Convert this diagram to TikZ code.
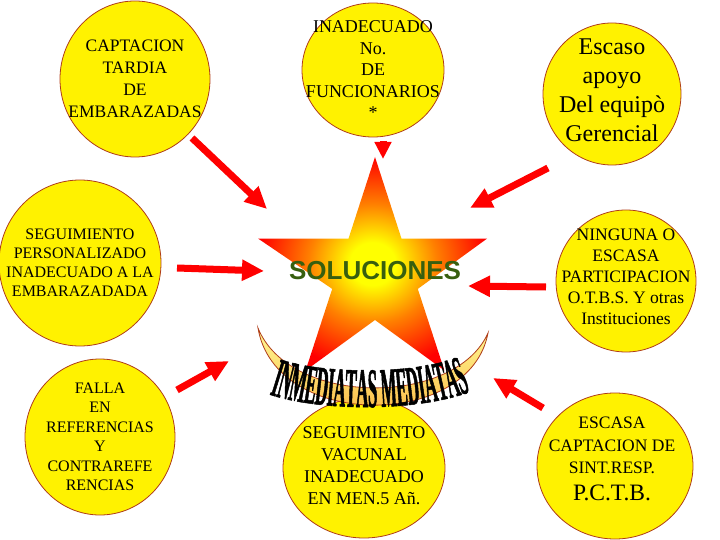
\documentclass[tikz,border=0pt]{standalone}
\usepackage{fontspec}
\setmainfont{Liberation Serif}
\newfontfamily\solfont{Liberation Sans}
\newfontfamily\archfont[FakeStretch=0.3,FakeBold=0.8]{Liberation Serif}
\usepackage{xcolor}
\usepackage{tikz}
\usetikzlibrary{arrows.meta}
\usetikzlibrary{shapes.geometric}
\usetikzlibrary{decorations.text}
\definecolor{rimred}{RGB}{175,60,25}
\definecolor{solgreen}{RGB}{55,95,15}
\pgfdeclareradialshading{starglow}{\pgfpoint{0bp}{0bp}}{color(0bp)=(yellow); color(5bp)=(yellow); color(14bp)=(orange); color(25bp)=(red); color(50bp)=(red)}
\tikzset{
  bubble/.style={ellipse, draw=rimred, fill=yellow, line width=0.8pt, inner sep=0pt},
  bubtext/.style={align=center, inner sep=0pt},
  redarrow/.style={draw=red, line width=7pt, -{Triangle[length=22pt,width=20pt]}}
}

\begin{document}
\begin{tikzpicture}[x=1pt,y=-1pt]
                    \useasboundingbox (0,0) rectangle (720,540);
                    \node[bubble, minimum width=150, minimum height=156] (cap) at (135,79) {};
                    \node[bubtext, font=\fontsize{17.5}{22}\selectfont] (captxt) at (cap) {CAPTACION\\TARDIA\\DE\\EMBARAZADAS};
                    \node[bubble, minimum width=142, minimum height=134] (inad) at (373,70) {};
                    \node[bubtext, font=\fontsize{18}{21.5}\selectfont] (inadtxt) at (inad) {INADECUADO\\No.\\DE\\FUNCIONARIOS\\*};
                    \node[bubble, minimum width=138, minimum height=142] (apoyo) at (612,94) {};
                    \node[bubtext, font=\fontsize{24}{29}\selectfont] (apoyotxt) at (612,90) {Escaso\\apoyo\\Del equipò\\Gerencial};
                    \node[bubble, minimum width=162, minimum height=166] (pers) at (80,263) {};
                    \node[bubtext, font=\fontsize{16}{19}\selectfont] (perstxt) at (pers) {SEGUIMIENTO\\PERSONALIZADO\\INADECUADO A LA\\EMBARAZADADA};
                    \node[bubble, minimum width=140, minimum height=142] (ning) at (626,281) {};
                    \node[bubtext, font=\fontsize{17.5}{21}\selectfont] (ningtxt) at (626,277) {NINGUNA O\\ESCASA\\PARTICIPACION\\O.T.B.S. Y otras\\Instituciones};
                    \node[bubble, minimum width=150, minimum height=156] (falla) at (100,437) {};
                    \node[bubtext, font=\fontsize{16}{19.5}\selectfont] (fallatxt) at (falla) {FALLA\\EN\\REFERENCIAS\\Y\\CONTRAREFE\\RENCIAS};
                    \node[bubble, minimum width=162, minimum height=140] (vac) at (364,468) {};
                    \node[bubtext, font=\fontsize{18}{22}\selectfont] (vactxt) at (364,466) {SEGUIMIENTO\\VACUNAL\\INADECUADO\\EN MEN.5 Añ.};
                    \node[bubble, minimum width=156, minimum height=146] (sint) at (615,466) {};
                    \node[bubtext, font=\fontsize{17.5}{22.5}\selectfont] (sinttxt) at (612,459) {ESCASA\\CAPTACION DE\\SINT.RESP.\\[4pt]{\fontsize{23.5}{28}\selectfont P.C.T.B.}};
                    \draw [rimred, line width=0.8pt, top color={rgb,255:red,255;green,250;blue,150}, bottom color={rgb,255:red,250;green,175;blue,55}] (258,328) .. controls (275,430) and (470,430) .. (488,333) .. controls (455,407) and (290,407) .. (258,328) -- cycle;
                    \shade [shading=starglow] (375,157) -- (401.5,238.6) -- (487.2,238.5) -- (417.8,288.9) -- (444.4,370.5) -- (375,320) -- (305.6,370.5) -- (332.2,288.9) -- (258,238.5) -- (348.5,238.6) -- cycle;
                    \path [decorate, decoration={text along path, text align=center, text={|\archfont\bfseries\fontsize{56}{56}\selectfont|INMEDIATAS MEDIATAS}}] (268,394) .. controls (320,412) and (420,412) .. (472,391);
                    \node [font=\solfont\bfseries\fontsize{26}{26}\selectfont, text=solgreen] (sol) at (375,271) {SOLUCIONES};
                    \coordinate (a1) at (192,138); \coordinate (b1) at (267,209);
                    \coordinate (a2) at (177,268); \coordinate (b2) at (264,271);
                    \coordinate (a3) at (548,168); \coordinate (b3) at (470,208);
                    \coordinate (a4) at (546,287); \coordinate (b4) at (468,286);
                    \coordinate (a5) at (177,390); \coordinate (b5) at (229,361);
                    \coordinate (a6) at (543,408); \coordinate (b6) at (493,378);
                    \coordinate (a7) at (383,141); \coordinate (b7) at (383,159);
                    \draw [redarrow] (a1) -- (b1);
                    \draw [redarrow] (a2) -- (b2);
                    \draw [redarrow] (a3) -- (b3);
                    \draw [redarrow] (a4) -- (b4);
                    \draw [redarrow] (a5) -- (b5);
                    \draw [redarrow] (a6) -- (b6);
                    \draw [redarrow, -{Triangle[length=17pt,width=16pt]}] (a7) -- (b7);
                \end{tikzpicture}
\end{document}
